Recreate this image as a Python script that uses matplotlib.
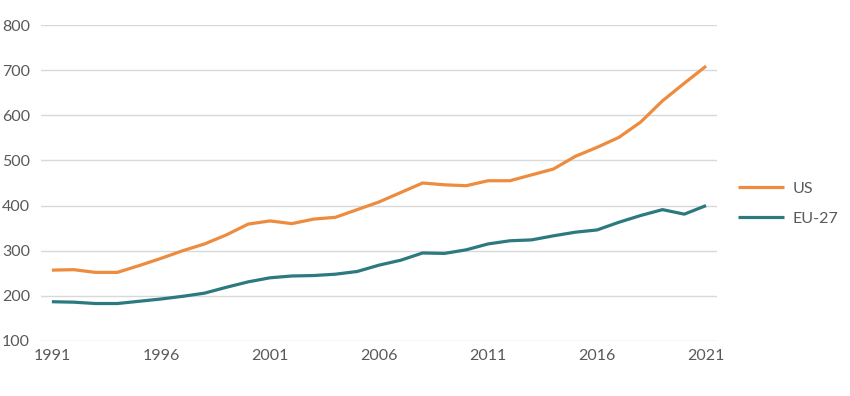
import numpy as np
import matplotlib
matplotlib.use("Agg")
import matplotlib.pyplot as plt

# data
years = list(range(1991, 2022))
us = [257, 258, 252, 252, 267, 283, 300, 315, 335, 359,
      366, 360, 370, 374, 391, 408, 429, 450, 446, 444,
      455, 455, 468, 481, 509, 529, 551, 585, 632, 671, 709]
eu27 = [187, 186, 183, 183, 188, 193, 199, 206, 219, 231,
        240, 244, 245, 248, 254, 268, 279, 295, 294, 302,
        315, 322, 324, 333, 341, 346, 363, 378, 391, 381, 400]
tick_years = [1991, 1996, 2001, 2006, 2011, 2016, 2021]
yticks = [100, 200, 300, 400, 500, 600, 700, 800]

plt.rcParams["font.family"] = ["Lato", "DejaVu Sans"]
text_color = "#595959"

fig = plt.figure(figsize=(8.5, 3.96), dpi=100)
ax = fig.add_axes([41/850, 1 - 341/396, (717 - 41)/850, (341 - 25)/396])

x = np.arange(len(years))
ax.plot(x, us, color="#ED8B3E", lw=2.3, label="US", solid_capstyle="butt")
ax.plot(x, eu27, color="#2C7A7F", lw=2.3, label="EU-27", solid_capstyle="butt")

ax.set_xlim(-0.5, len(years) - 0.5)
ax.set_ylim(100, 800)
ax.set_yticks(yticks)
ax.set_yticklabels([str(v) for v in yticks])
ax.set_xticks([years.index(y) for y in tick_years])
ax.set_xticklabels([str(y) for y in tick_years])

ax.grid(axis="y", color="#D9D9D9", lw=1)
ax.set_axisbelow(True)
for s in ax.spines.values():
    s.set_visible(False)
ax.tick_params(length=0, labelsize=11.5, colors=text_color)
ax.tick_params(axis="y", pad=8)
ax.tick_params(axis="x", pad=6)

ax.legend(loc="center left", bbox_to_anchor=(1.01, 0.434), frameon=False,
          fontsize=11.5, labelcolor=text_color, handlelength=2.9,
          labelspacing=1.0, handletextpad=0.5)

fig.savefig("out.png", dpi=100)
